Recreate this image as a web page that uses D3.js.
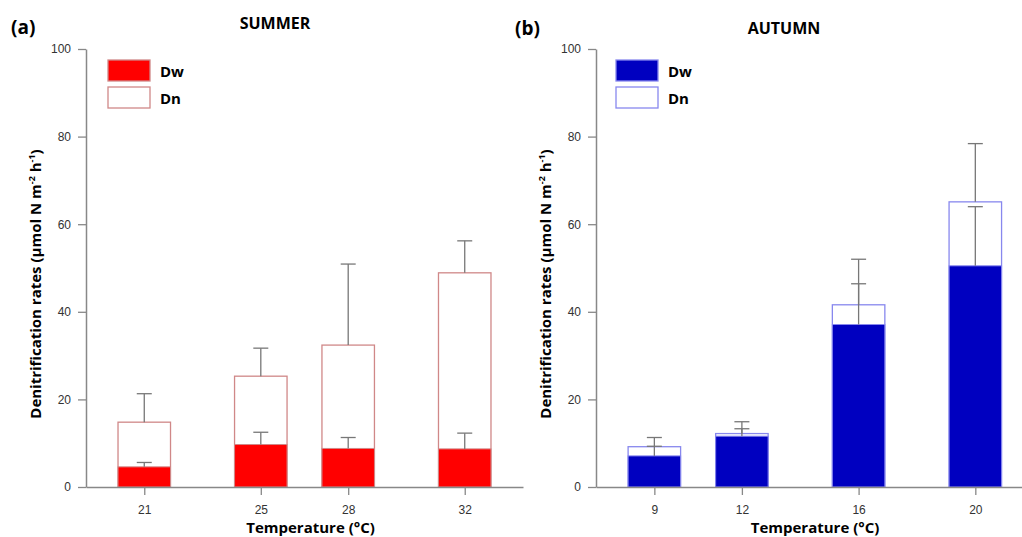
<!DOCTYPE html>
<html>
<head>
<meta charset="utf-8">
<script src="https://cdn.jsdelivr.net/npm/d3@7/dist/d3.min.js"></script>
<style>
  body { margin: 0; background: #fff; }
  svg { font-family: "Open Sans", "Noto Sans", sans-serif; }
</style>
</head>
<body>
<div id="chart"></div>
<script>
// Summer panel data
const summerTemps = [21, 25, 28, 32];
const summerDw = [4.6, 9.7, 8.8, 8.7];
const summerDwErr = [1.0, 2.8, 2.5, 3.6];
const summerDn = [10.2, 15.6, 23.6, 40.2];
const summerTotalErr = [6.5, 6.4, 18.5, 7.3];

// Autumn panel data
const autumnTemps = [9, 12, 16, 20];
const autumnDw = [7.1, 11.6, 37.1, 50.5];
const autumnDwErr = [2.2, 1.7, 9.3, 13.5];
const autumnDn = [2.1, 0.6, 4.5, 14.6];
const autumnTotalErr = [2.1, 2.7, 10.4, 13.3];

const yTicks = [0, 20, 40, 60, 80, 100];
const legendLabels = ["Dw", "Dn"];

const svg = d3.select("#chart")
  .append("svg")
  .attr("width", 1022)
  .attr("height", 537);

function drawPanel(opt) {
  const g = svg.append("g");

  const x = d3.scaleLinear().domain(opt.xDomain).range(opt.xRange);
  const y = d3.scaleLinear().domain([0, 100]).range([487, 49]);
  const barW = 52.5;

  const rows = opt.temps.map((t, i) => ({
    t: t,
    dw: opt.dw[i],
    dwErr: opt.dwErr[i],
    total: opt.dw[i] + opt.dn[i],
    totalErr: opt.totalErr[i]
  }));

  // total (Dn stacked on Dw) outline bars
  g.selectAll("rect.total")
    .data(rows)
    .enter().append("rect")
    .attr("class", "total")
    .attr("x", d => x(d.t) - barW / 2)
    .attr("y", d => y(d.total))
    .attr("width", barW)
    .attr("height", d => y(0) - y(d.total))
    .attr("fill", "#fff")
    .attr("stroke", opt.outline)
    .attr("stroke-width", 1.3);

  // Dw filled part
  g.selectAll("rect.dw")
    .data(rows)
    .enter().append("rect")
    .attr("class", "dw")
    .attr("x", d => x(d.t) - barW / 2)
    .attr("y", d => y(d.dw))
    .attr("width", barW)
    .attr("height", d => y(0) - y(d.dw))
    .attr("fill", opt.fill)
    .attr("stroke", opt.outline)
    .attr("stroke-width", 1);

  // error bars
  const errs = [];
  rows.forEach(d => {
    errs.push({ t: d.t, base: d.dw, top: d.dw + d.dwErr });
    errs.push({ t: d.t, base: d.total, top: d.total + d.totalErr });
  });
  const eg = g.append("g").attr("stroke", "#777").attr("stroke-width", 1.3);
  eg.selectAll("line.stem")
    .data(errs)
    .enter().append("line")
    .attr("x1", d => x(d.t)).attr("x2", d => x(d.t))
    .attr("y1", d => y(d.base)).attr("y2", d => y(d.top));
  eg.selectAll("line.cap")
    .data(errs)
    .enter().append("line")
    .attr("x1", d => x(d.t) - 7.5).attr("x2", d => x(d.t) + 7.5)
    .attr("y1", d => y(d.top)).attr("y2", d => y(d.top));

  // axes
  const yAxis = g.append("g")
    .attr("transform", `translate(${opt.xRange[0]},0)`)
    .call(d3.axisLeft(y).tickValues(yTicks).tickSize(8).tickSizeOuter(0).tickPadding(7));
  const xAxis = g.append("g")
    .attr("transform", `translate(0,${y(0)})`)
    .call(d3.axisBottom(x).tickValues(opt.temps).tickSize(8).tickSizeOuter(0).tickPadding(10));

  [yAxis, xAxis].forEach(a => {
    a.select(".domain").attr("stroke", "#888").attr("stroke-width", 1.5);
    a.selectAll(".tick line").attr("stroke", "#888").attr("stroke-width", 1.3);
    a.selectAll(".tick text").attr("fill", "#333").attr("font-size", 12);
  });

  // titles
  g.append("text")
    .attr("x", (opt.xRange[0] + opt.xRange[1]) / 2 + 6)
    .attr("y", 533)
    .attr("text-anchor", "middle")
    .attr("font-size", 15)
    .attr("font-weight", "bold")
    .text("Temperature (°C)");

  const yt = g.append("text")
    .attr("transform", `translate(${opt.xRange[0] - 45},${284}) rotate(-90)`)
    .attr("text-anchor", "middle")
    .attr("font-size", 15)
    .attr("font-weight", "bold");
  yt.append("tspan").text("Denitrification rates (µmol N m");
  yt.append("tspan").attr("baseline-shift", "super").attr("font-size", 9).text("-2");
  yt.append("tspan").text(" h");
  yt.append("tspan").attr("baseline-shift", "super").attr("font-size", 9).text("-1");
  yt.append("tspan").text(")");

  g.append("text")
    .attr("x", opt.titleX)
    .attr("y", opt.titleY)
    .attr("text-anchor", "middle")
    .attr("font-size", 16)
    .attr("font-weight", "bold")
    .text(opt.title);

  g.append("text")
    .attr("x", opt.tagX)
    .attr("y", opt.tagY)
    .attr("font-size", 19)
    .attr("font-weight", "bold")
    .text(opt.tag);

  // legend
  const lg = g.append("g").attr("transform", `translate(${opt.legendX},60)`);
  legendLabels.forEach((lab, i) => {
    lg.append("rect")
      .attr("x", 0).attr("y", i * 27)
      .attr("width", 42).attr("height", 21)
      .attr("fill", i === 0 ? opt.fill : "#fff")
      .attr("stroke", opt.outline)
      .attr("stroke-width", 1.3);
    lg.append("text")
      .attr("x", 52).attr("y", i * 27 + 17)
      .attr("font-size", 15)
      .attr("font-weight", "bold")
      .text(lab);
  });
}

drawPanel({
  temps: summerTemps, dw: summerDw, dwErr: summerDwErr, dn: summerDn, totalErr: summerTotalErr,
  xDomain: [19, 34], xRange: [86, 523],
  fill: "#ff0000", outline: "#d08888",
  title: "SUMMER", titleX: 275, titleY: 29,
  tag: "(a)", tagX: 11, tagY: 34,
  legendX: 108
});

drawPanel({
  temps: autumnTemps, dw: autumnDw, dwErr: autumnDwErr, dn: autumnDn, totalErr: autumnTotalErr,
  xDomain: [7, 21.6], xRange: [596, 1022],
  fill: "#0000c0", outline: "#8888ee",
  title: "AUTUMN", titleX: 784, titleY: 34,
  tag: "(b)", tagX: 515, tagY: 35,
  legendX: 616
});
</script>
</body>
</html>
